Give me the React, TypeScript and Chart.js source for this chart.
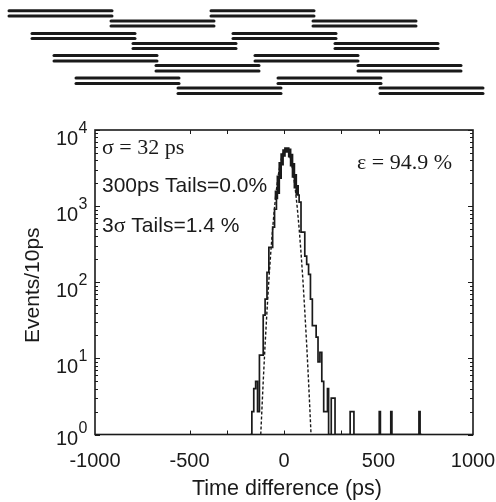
import React, { useEffect, useRef } from "react";
import { Chart, registerables } from "chart.js";

Chart.register(...registerables);

const xMajorLabels = [-1000, -500, 0, 500, 1000];
const xTickMarks = [-500, -300, 0, 300, 500];
const yDecades = [1, 10, 100, 1000, 10000];
const yMinorFactors = [2, 3, 4, 5, 6, 7, 8, 9];

const histEdges = [-180, -170, -160, -150, -140, -130, -120, -110, -100, -90, -80, -70, -60, -50, -40, -30, -20, -10, 0, 10, 20, 30, 40, 50, 60, 70, 80, 90, 100, 110, 120, 130, 140, 150, 160, 170, 180, 190, 200, 210, 220, 230, 236, 250, 260, 270, 350, 360, 370, 504, 510, 565, 571, 714, 720, 730];
const histCounts = [1, 2, 4, 5, 2, 11, 11, 37, 60, 135, 288, 288, 530, 910, 1520, 2400, 3600, 4700, 5300, 5600, 5400, 4600, 3500, 2500, 1800, 1400, 1130, 455, 455, 220, 172, 127, 60, 27, 27, 19, 9, 12, 5, 2, 2, 4, 1, 3, 3, 1, 2, 2, 1, 2, 1, 2, 1, 2, 1, 1];
const peakEdges = [-50, -40, -30, -20, -10, 0, 10, 20, 30, 40, 50, 60, 70];
const peakCounts = [1300, 1520, 2400, 3600, 4700, 5300, 5600, 5400, 4600, 3500, 2500, 1800, 1400];

const gaussX = [-123, -120, -110, -100, -90, -80, -70, -60, -50, -40, -30, -20, -10, 0, 10, 20, 30, 40, 50, 60, 70, 80, 90, 100, 110, 120, 130, 140, 143];
const gaussY = [1, 1.46, 4.95, 15.2, 42, 107, 246, 512, 965, 1652, 2564, 3610, 4607, 5333, 5600, 5333, 4607, 3610, 2564, 1652, 965, 512, 246, 107, 42, 15.2, 4.95, 1.46, 1];

const barStartsA = [9, 111, 32, 133, 54, 156, 76, 178];
const barStartsB = [211, 313, 233, 335, 255, 358, 278, 380];
const barLength = 103;
const barUpperY = [10.7, 21, 33.5, 43.5, 55.5, 65.5, 78, 88];
const barLowerY = [16, 26, 38.5, 48.5, 61, 71, 83.5, 93.5];

const SANS = '"Liberation Sans", Arial, sans-serif';
const SERIF = '"Liberation Serif", "Times New Roman", serif';
const INK = "#1a1a1a";

const annotate = {
  id: "annotate",
  afterDraw(chart: any) {
    const { ctx, chartArea: a, scales } = chart;
    const sx = scales.x;
    const sy = scales.y;
    ctx.save();
    ctx.strokeStyle = INK;
    ctx.lineWidth = 1.6;
    ctx.strokeRect(a.left, a.top, a.right - a.left, a.bottom - a.top);
    ctx.lineWidth = 1;
    ctx.beginPath();
    for (const v of xTickMarks) {
      const p = Math.round(sx.getPixelForValue(v)) + 0.5;
      ctx.moveTo(p, a.bottom);
      ctx.lineTo(p, a.bottom - 4);
      ctx.moveTo(p, a.top);
      ctx.lineTo(p, a.top + 4);
    }
    for (const d of yDecades) {
      const p = Math.round(sy.getPixelForValue(d)) + 0.5;
      ctx.moveTo(a.left, p);
      ctx.lineTo(a.left + 5, p);
      ctx.moveTo(a.right, p);
      ctx.lineTo(a.right - 5, p);
      if (d < 10000) {
        for (const m of yMinorFactors) {
          const q = Math.round(sy.getPixelForValue(d * m)) + 0.5;
          ctx.moveTo(a.left, q);
          ctx.lineTo(a.left + 3, q);
          ctx.moveTo(a.right, q);
          ctx.lineTo(a.right - 3, q);
        }
      }
    }
    ctx.stroke();

    ctx.fillStyle = INK;
    ctx.textBaseline = "alphabetic";
    ctx.textAlign = "left";
    yDecades.forEach((d, i) => {
      const tick = sy.getPixelForValue(d);
      const base = tick + (i === 0 ? 10 : 14.5);
      ctx.font = `20px ${SANS}`;
      ctx.fillText("10", 56, base);
      ctx.font = `16px ${SANS}`;
      ctx.fillText(String(i), 78.5, base - 12);
    });
    ctx.font = `22px ${SERIF}`;
    ctx.fillText("σ = 32 ps", 102, 154);
    ctx.fillText("ε = 94.9 %", 357, 169);
    ctx.font = `21px ${SANS}`;
    ctx.fillText("300ps Tails=0.0%", 102, 192);
    ctx.fillText("3", 102, 232);
    let w = ctx.measureText("3").width;
    ctx.font = `22px ${SERIF}`;
    ctx.fillText("σ", 102 + w, 232);
    w += ctx.measureText("σ").width;
    ctx.font = `21px ${SANS}`;
    ctx.fillText(" Tails=1.4 %", 102 + w, 232);
    ctx.restore();
  },
};

export default function App() {
  const mainRef = useRef<HTMLCanvasElement>(null);
  const barsRef = useRef<HTMLCanvasElement>(null);

  useEffect(() => {
    document.body.style.margin = "0";
    const main = new Chart(mainRef.current!, {
      type: "line",
      data: {
        datasets: [
          {
            label: "Events",
            data: histEdges.map((x, i) => ({ x, y: histCounts[i] })),
            stepped: true,
            borderColor: INK,
            borderWidth: 1.7,
            pointRadius: 0,
            fill: false,
          },
          {
            label: "Events near peak",
            data: peakEdges.map((x, i) => ({ x, y: peakCounts[i] })),
            stepped: true,
            borderColor: INK,
            borderWidth: 3.6,
            pointRadius: 0,
            fill: false,
          },
          {
            label: "Gaussian fit",
            data: gaussX.map((x, i) => ({ x, y: gaussY[i] })),
            borderColor: INK,
            borderWidth: 1.4,
            borderDash: [3, 2],
            pointRadius: 0,
            tension: 0,
            fill: false,
          },
        ],
      },
      options: {
        animation: false,
        responsive: false,
        layout: { padding: { left: 0, top: 130, right: 23, bottom: 0 } },
        plugins: { legend: { display: false }, tooltip: { enabled: false } },
        scales: {
          x: {
            type: "linear",
            min: -1000,
            max: 1000,
            grid: { display: false },
            border: { display: false },
            afterBuildTicks: (s: any) => {
              s.ticks = xMajorLabels.map((value) => ({ value }));
            },
            afterFit: (s: any) => {
              s.height = 67.5;
              s.paddingLeft = 0;
              s.paddingRight = 0;
            },
            ticks: {
              color: INK,
              font: { family: SANS, size: 20 },
              maxRotation: 0,
              autoSkip: false,
              padding: 7,
              callback: (v: any) => String(v),
            },
            title: {
              display: true,
              text: " Time difference (ps)",
              color: INK,
              font: { family: SANS, size: 21.5 },
              padding: { top: 0, bottom: 0 },
            },
          },
          y: {
            type: "logarithmic",
            min: 1,
            max: 10000,
            grid: { display: false },
            border: { display: false },
            afterBuildTicks: (s: any) => {
              s.ticks = yDecades.map((value) => ({ value }));
            },
            afterFit: (s: any) => {
              s.width = 95;
              s.paddingTop = 0;
              s.paddingBottom = 0;
            },
            ticks: { display: false },
            title: {
              display: true,
              text: "Events/10ps ",
              color: INK,
              font: { family: SANS, size: 21 },
              padding: { top: 21, bottom: 0 },
            },
          },
        },
      },
      plugins: [annotate],
    } as any);

    const segments: any[] = [];
    barUpperY.forEach((yU, i) => {
      const yL = barLowerY[i];
      for (const s of [barStartsA[i], barStartsB[i]]) {
        for (const y of [yU, yL]) {
          segments.push({
            data: [
              { x: s, y },
              { x: s + barLength, y },
            ],
            borderColor: INK,
            borderWidth: 3,
            borderCapStyle: "round",
            pointRadius: 0,
          });
        }
      }
    });
    const bars = new Chart(barsRef.current!, {
      type: "line",
      data: { datasets: segments },
      options: {
        animation: false,
        responsive: false,
        layout: { padding: 0 },
        plugins: { legend: { display: false }, tooltip: { enabled: false } },
        scales: {
          x: { type: "linear", min: 0, max: 496, display: false },
          y: { type: "linear", min: 0, max: 110, reverse: true, display: false },
        },
      },
    } as any);

    return () => {
      main.destroy();
      bars.destroy();
    };
  }, []);

  return (
    <div style={{ position: "relative", width: 496, height: 502 }}>
      <canvas ref={mainRef} width={496} height={502} style={{ position: "absolute", left: 0, top: 0, width: 496, height: 502 }} />
      <canvas ref={barsRef} width={496} height={110} style={{ position: "absolute", left: 0, top: 0, width: 496, height: 110 }} />
    </div>
  );
}
